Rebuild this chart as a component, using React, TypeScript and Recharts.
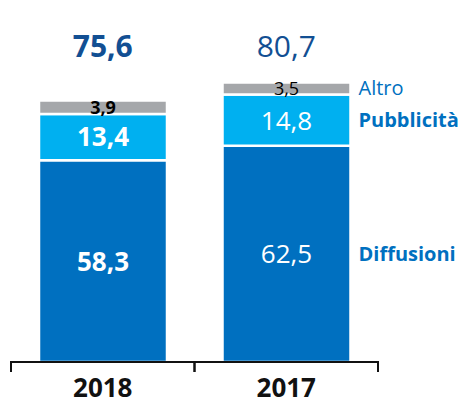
import { BarChart, Bar, XAxis, YAxis, LabelList } from 'recharts';

const categories = ['2018', '2017'];
const diffusioni = [58.3, 62.5];
const pubblicita = [13.4, 14.8];
const altro = [3.9, 3.5];
const totals = [75.6, 80.7];
const seriesNames = { altro: 'Altro', pubblicita: 'Pubblicità', diffusioni: 'Diffusioni' };

const W = 471;
const H = 406;
const margin = { top: 0, right: 93, bottom: 0, left: 11 };
const band = (W - margin.left - margin.right) / categories.length;
const FONT = '"Open Sans", sans-serif';

const data = categories.map((year, i) => ({
  year,
  diffusioni: diffusioni[i],
  pubblicita: pubblicita[i],
  altro: altro[i],
}));

const fmt = (v: number) => v.toFixed(1).replace('.', ',');
// first category (current year) is emphasised in bold
const isBold = (i: number) => i === 0;

function YearTick({ x, y, payload }: any) {
  return (
    <g>
      <line x1={x - band / 2} y1={y - 1} x2={x - band / 2} y2={y + 10} stroke="#111" strokeWidth={2} />
      <line x1={x + band / 2} y1={y - 1} x2={x + band / 2} y2={y + 10} stroke="#111" strokeWidth={2} />
      <text x={x} y={y + 35} textAnchor="middle" fontFamily={FONT} fontWeight={700} fontSize={26} fill="#111">
        {payload.value}
      </text>
    </g>
  );
}

function TotalTick({ x, y, index }: any) {
  return (
    <text x={x} y={y + 41} textAnchor="middle" fontFamily={FONT} fontWeight={isBold(index) ? 700 : 400} fontSize={30} fill="#124F93">
      {fmt(totals[index])}
    </text>
  );
}

const segmentLabel = (size: number, color: string, key: keyof typeof seriesNames, boldName: boolean) =>
  (props: any) => {
    const { x, y, width, height, value, index } = props;
    const cy = y + height / 2;
    return (
      <g>
        <text x={x + width / 2} y={cy + size * 0.36} textAnchor="middle" fontFamily={FONT}
          fontWeight={isBold(index) ? 700 : 400} fontSize={size} fill={color}>
          {fmt(value)}
        </text>
        {index === categories.length - 1 && (
          <text x={x + width + 8} y={cy + 7} textAnchor="start" fontFamily={FONT}
            fontWeight={boldName ? 700 : 400} fontSize={20} fill="#0070C0">
            {seriesNames[key]}
          </text>
        )}
      </g>
    );
  };

export default function App() {
  return (
    <div style={{ position: 'absolute', left: 0, top: 0, width: W, height: H, background: '#fff' }}>
      <BarChart width={W} height={H} data={data} margin={margin}>
        <XAxis xAxisId="top" orientation="top" dataKey="year" height={16} axisLine={false} tickLine={false}
          tickSize={0} tickMargin={0} tick={<TotalTick />} />
        <XAxis dataKey="year" height={44} axisLine={{ stroke: '#111', strokeWidth: 2 }} tickLine={false}
          tickSize={0} tickMargin={0} tick={<YearTick />} />
        <YAxis hide domain={[0, 100]} />
        <Bar dataKey="diffusioni" stackId="a" fill="#0070C0" barSize={128} stroke="#fff" strokeWidth={2.5} isAnimationActive={false}>
          <LabelList dataKey="diffusioni" content={segmentLabel(26, '#fff', 'diffusioni', true)} />
        </Bar>
        <Bar dataKey="pubblicita" stackId="a" fill="#00B0F0" barSize={128} stroke="#fff" strokeWidth={2.5} isAnimationActive={false}>
          <LabelList dataKey="pubblicita" content={segmentLabel(26, '#fff', 'pubblicita', true)} />
        </Bar>
        <Bar dataKey="altro" stackId="a" fill="#A5A7AA" barSize={128} stroke="#fff" strokeWidth={2.5} isAnimationActive={false}>
          <LabelList dataKey="altro" content={segmentLabel(18, '#000', 'altro', false)} />
        </Bar>
      </BarChart>
    </div>
  );
}
